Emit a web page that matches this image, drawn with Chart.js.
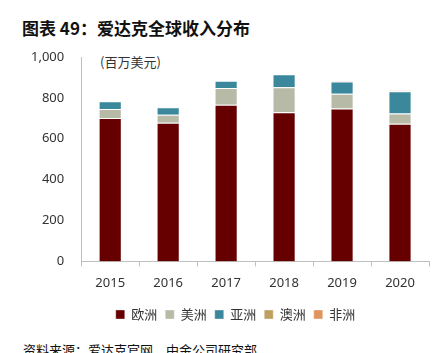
<!DOCTYPE html>
<html>
<head>
<meta charset="utf-8">
<script src="https://cdn.jsdelivr.net/npm/chart.js@4.4.0/dist/chart.umd.min.js"></script>
<style>
    body { margin: 0; background: #fff; width: 442px; height: 353px; overflow: hidden; position: relative; font-family: "Noto Sans CJK SC", sans-serif; }
    #title { position: absolute; left: 22px; top: 15px; font-size: 17px; font-weight: bold; color: #111; }
    #unit { position: absolute; left: 100px; top: 52px; font-size: 13px; color: #333; }
    #source { position: absolute; left: 23px; top: 340px; font-size: 13px; color: #111; }
    #wrap { position: absolute; left: 14px; top: 0; width: 428px; height: 346px; }
</style>
</head>
<body>
<div id="title">图表 49：爱达克全球收入分布</div>
<div id="unit">(百万美元)</div>
<div id="source">资料来源：爱达克官网，中金公司研究部</div>
<div id="wrap"><canvas id="revenueChart"></canvas></div>
<script>
// Revenue by region, USD millions
var years = ['2015', '2016', '2017', '2018', '2019', '2020'];
var europe = [702, 678, 767, 730, 748, 673];
var americas = [44, 40, 81, 122, 72, 50];
var asia = [37, 36, 36, 63, 60, 109];
var oceania = [0, 2, 0, 0, 3, 4];
var africa = [0, 0, 0, 0, 0, 2];
var yTicks = [0, 200, 400, 600, 800, 1000];

document.addEventListener('DOMContentLoaded', function() {
    var ctx = document.getElementById('revenueChart').getContext('2d');

    function series(label, data, color) {
        return {
            label: label,
            data: data,
            backgroundColor: color,
            borderColor: 'rgba(255, 255, 255, 0.35)',
            borderWidth: 1,
            barPercentage: 0.4,
            categoryPercentage: 1
        };
    }

    // legend sits a bit right of the canvas centre in the original
    var legendNudge = {
        id: 'legendNudge',
        afterLayout: function(chart) {
            if (chart.legend) {
                chart.legend.left += 14;
                chart.legend.right += 14;
            }
        }
    };

    new Chart(ctx, {
        type: 'bar',
        data: {
            labels: years,
            datasets: [
                series('欧洲', europe, '#660000'),
                series('美洲', americas, '#B8BAA8'),
                series('亚洲', asia, '#3B889C'),
                series('澳洲', oceania, '#BFA060'),
                series('非洲', africa, '#E0955F')
            ]
        },
        options: {
            responsive: true,
            maintainAspectRatio: false,
            animation: false,
            layout: {
                padding: { top: 57, right: 13, bottom: 15, left: 0 }
            },
            scales: {
                x: {
                    stacked: true,
                    grid: {
                        drawOnChartArea: false,
                        drawTicks: true,
                        tickLength: 5,
                        color: '#bfbfbf'
                    },
                    border: { color: '#bfbfbf' },
                    ticks: {
                        color: '#333',
                        padding: 9,
                        font: { size: 13, family: "'Noto Sans', sans-serif" }
                    }
                },
                y: {
                    stacked: true,
                    min: 0,
                    max: 1000,
                    afterBuildTicks: function(axis) {
                        axis.ticks = yTicks.map(function(v) { return { value: v }; });
                    },
                    grid: { display: false, drawTicks: false },
                    border: { color: '#bfbfbf' },
                    ticks: {
                        color: '#333',
                        padding: 17,
                        font: { size: 13, family: "'Noto Sans', sans-serif" },
                        callback: function(v) { return v.toLocaleString('en-US'); }
                    }
                }
            },
            plugins: {
                legend: {
                    position: 'bottom',
                    labels: {
                        boxWidth: 9,
                        boxHeight: 9,
                        padding: 8,
                        color: '#333',
                        font: { size: 13, family: "'Noto Sans CJK SC', sans-serif" }
                    }
                },
                tooltip: { enabled: false }
            }
        },
        plugins: [legendNudge]
    });
});
</script>
</body>
</html>
